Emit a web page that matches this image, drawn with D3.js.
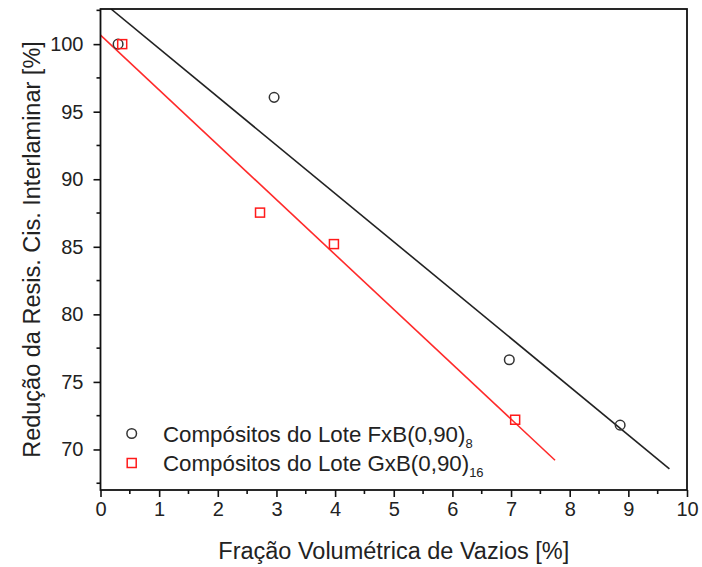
<!DOCTYPE html>
<html><head><meta charset="utf-8">
<script src="https://cdn.jsdelivr.net/npm/d3@7"></script>
<style>body{margin:0;background:#fff}svg{display:block}</style>
</head><body>
<svg id="c" width="702" height="567"></svg>
<script>
// Data
const fxbX = [0.30, 2.96, 6.97, 8.86];
const fxbY = [100.0, 96.06, 76.64, 71.8];
const gxbX = [0.37, 2.72, 3.98, 7.07];
const gxbY = [100.0, 87.53, 85.2, 72.2];
// fit line endpoints
const fxbFitX = [0.18, 9.70];
const fxbFitY = [102.6, 68.57];
const gxbFitX = [0.0, 7.75];
const gxbFitY = [100.67, 69.2];
const xTicks = [0,1,2,3,4,5,6,7,8,9,10];
const yTicks = [70,75,80,85,90,95,100];
const legendLabels = ["Compósitos do Lote FxB(0,90)", "Compósitos do Lote GxB(0,90)"];
const legendSubs = ["8", "16"];

const svg = d3.select("#c");
const L = 100.5, R = 687, T = 9, B = 490;
const x = d3.scaleLinear().domain([0, 10]).range([L, R]);
const y = d3.scaleLinear().domain([67, 102.6]).range([B, T]);
const font = "Liberation Sans, Arial, sans-serif";
const txt = "#222";

// clip
svg.append("clipPath").attr("id","clip").append("rect")
  .attr("x", L).attr("y", T).attr("width", R-L).attr("height", B-T);

// fit lines
const line = d3.line().x(d=>x(d[0])).y(d=>y(d[1]));
svg.append("path").datum(d3.zip(fxbFitX, fxbFitY)).attr("d", line)
  .attr("fill","none").attr("stroke","#222").attr("stroke-width",1.6).attr("clip-path","url(#clip)");
svg.append("path").datum(d3.zip(gxbFitX, gxbFitY)).attr("d", line)
  .attr("fill","none").attr("stroke","#ff2a2a").attr("stroke-width",1.6).attr("clip-path","url(#clip)");

// markers
svg.selectAll("circle.fxb").data(d3.zip(fxbX, fxbY)).join("circle").attr("class","fxb")
  .attr("cx", d=>x(d[0])).attr("cy", d=>y(d[1])).attr("r", 4.8)
  .attr("fill","none").attr("stroke","#333").attr("stroke-width",1.5);
svg.selectAll("rect.gxb").data(d3.zip(gxbX, gxbY)).join("rect").attr("class","gxb")
  .attr("x", d=>x(d[0])-4.5).attr("y", d=>y(d[1])-4.5).attr("width", 9).attr("height", 9)
  .attr("fill","none").attr("stroke","#ff1a1a").attr("stroke-width",1.5);

// frame
svg.append("rect").attr("x", L).attr("y", T).attr("width", R-L).attr("height", B-T)
  .attr("fill","none").attr("stroke","#111").attr("stroke-width",1.8);

// x axis
const xAxis = d3.axisBottom(x).tickValues(xTicks).tickSize(7).tickPadding(5).tickFormat(d3.format("d"));
const gx = svg.append("g").attr("transform", `translate(0,${B})`).call(xAxis);
gx.select(".domain").remove();
gx.selectAll(".tick line").attr("stroke","#111").attr("stroke-width",1.6);
gx.selectAll("text").attr("font-family", font).attr("font-size", 20).attr("fill", txt);
const xMinor = d3.range(0.5, 10, 1);
svg.append("g").selectAll("line").data(xMinor).join("line")
  .attr("x1", d=>x(d)).attr("x2", d=>x(d)).attr("y1", B).attr("y2", B+4)
  .attr("stroke","#111").attr("stroke-width",1.6);

// y axis
const yAxis = d3.axisLeft(y).tickValues(yTicks).tickSize(7).tickPadding(10).tickFormat(d3.format("d"));
const gy = svg.append("g").attr("transform", `translate(${L},0)`).call(yAxis);
gy.select(".domain").remove();
gy.selectAll(".tick line").attr("stroke","#111").attr("stroke-width",1.6);
gy.selectAll("text").attr("font-family", font).attr("font-size", 20).attr("fill", txt);
const yMinor = d3.range(67.5, 102.6, 5);
svg.append("g").selectAll("line").data(yMinor).join("line")
  .attr("x1", L).attr("x2", L-4).attr("y1", d=>y(d)).attr("y2", d=>y(d))
  .attr("stroke","#111").attr("stroke-width",1.6);

// axis titles
svg.append("text").attr("x", (L+R)/2).attr("y", 559).attr("text-anchor","middle")
  .attr("font-family", font).attr("font-size", 23.5).attr("fill", txt)
  .text("Fração Volumétrica de Vazios [%]");
svg.append("text").attr("transform", `translate(40,${(T+B)/2}) rotate(-90)`).attr("text-anchor","middle")
  .attr("font-family", font).attr("font-size", 23.5).attr("fill", txt)
  .text("Redução da Resis. Cis. Interlaminar [%]");

// legend
const lg = svg.append("g");
const rowsY = [433.5, 463];
lg.append("circle").attr("cx", 131.7).attr("cy", rowsY[0]).attr("r", 4.8)
  .attr("fill","none").attr("stroke","#333").attr("stroke-width",1.5);
lg.append("rect").attr("x", 131.7-4.5).attr("y", rowsY[1]-4.5).attr("width",9).attr("height",9)
  .attr("fill","none").attr("stroke","#ff1a1a").attr("stroke-width",1.5);
legendLabels.forEach((lab, i) => {
  const t = lg.append("text").attr("x", 163).attr("y", rowsY[i] + 8)
    .attr("font-family", font).attr("font-size", 22.3).attr("fill", txt);
  t.append("tspan").text(lab);
  t.append("tspan").attr("font-size", 13).attr("dy", 6).text(legendSubs[i]);
});
</script>
</body></html>
